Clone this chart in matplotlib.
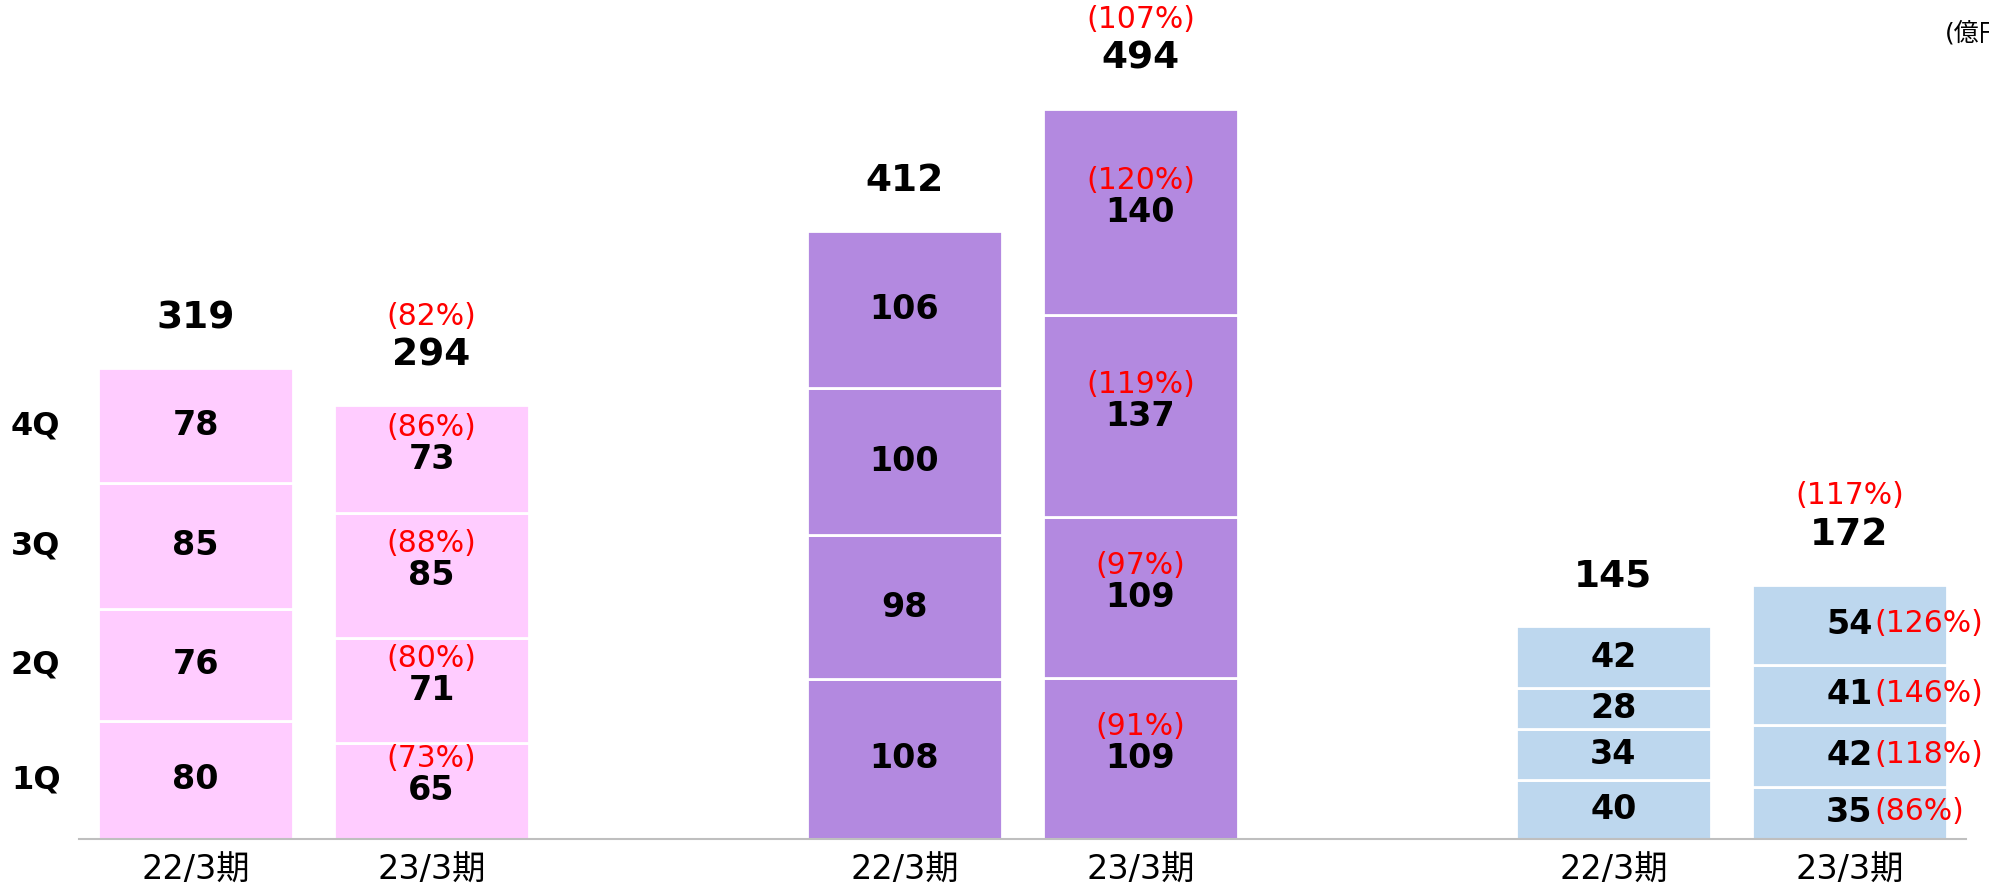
import numpy as np
import matplotlib.pyplot as plt

plt.rcParams['font.family'] = ['DejaVu Sans', 'Noto Sans CJK JP']

periods = ['22/3期', '23/3期']
quarters = ['1Q', '2Q', '3Q', '4Q']

pink_prev = [80, 76, 85, 78]
pink_cur = [65, 71, 85, 73]
pink_pct = [73, 80, 88, 86]

purple_prev = [108, 98, 100, 106]
purple_cur = [109, 109, 137, 140]
purple_pct = [91, 97, 119, 120]

blue_prev = [40, 34, 28, 42]
blue_cur = [35, 42, 41, 54]
blue_pct = [86, 118, 146, 126]

totals_prev = [319, 412, 145]
totals_cur = [294, 494, 172]
totals_pct = [82, 107, 117]

colors = ['#FFCCFF', '#B389E0', '#BDD7EE']

groups = [(pink_prev, pink_cur, pink_pct),
          (purple_prev, purple_cur, purple_pct),
          (blue_prev, blue_cur, blue_pct)]

fig = plt.figure(figsize=(19.89, 8.86), dpi=100)
ax = fig.add_axes([0.0397, 0.0536, 0.9487, 0.9464])

width = 0.2755
off = 0.1664
red = '#FF0000'
seg_fs = 24
tot_fs = 27
pct_fs = 21.5

tick_pos = []
tick_lab = []
for g, (prev, cur, pct) in enumerate(groups):
    x0, x1 = g - off, g + off
    tick_pos += [x0, x1]
    tick_lab += periods
    b0 = np.concatenate([[0], np.cumsum(prev)[:-1]])
    b1 = np.concatenate([[0], np.cumsum(cur)[:-1]])
    ax.bar([x0] * 4, prev, width, bottom=b0, color=colors[g], edgecolor='white', linewidth=2)
    ax.bar([x1] * 4, cur, width, bottom=b1, color=colors[g], edgecolor='white', linewidth=2)
    for v, b in zip(prev, b0):
        ax.text(x0, b + v / 2, str(v), ha='center', va='center', fontsize=seg_fs, fontweight='bold')
    for v, b, p in zip(cur, b1, pct):
        ax.text(x1, b + v / 2, str(v), ha='center', va='center', fontsize=seg_fs, fontweight='bold')
        if g == 2:
            ax.text(x1 + 0.036, b + v / 2 + 1, f'({p}%)', ha='left', va='center', fontsize=pct_fs, color=red)
        else:
            ax.text(x1, b + v / 2 + 21.5, f'({p}%)', ha='center', va='center', fontsize=pct_fs, color=red)
    top0 = sum(prev)
    top1 = sum(cur)
    ax.text(x0, top0 + 34, str(totals_prev[g]), ha='center', va='center', fontsize=tot_fs, fontweight='bold')
    ax.text(x1, top1 + 34, str(totals_cur[g]), ha='center', va='center', fontsize=tot_fs, fontweight='bold')
    ax.text(x1, top1 + 60.5, f'({totals_pct[g]}%)', ha='center', va='center', fontsize=pct_fs, color=red)

# quarter labels next to first bar
b0 = np.concatenate([[0], np.cumsum(pink_prev)[:-1]])
for q, v, b in zip(quarters, pink_prev, b0):
    ax.text(-0.392, b + v / 2, q, ha='center', va='center', fontsize=23, fontweight='bold', clip_on=False)

# unit label, cut at the right edge as in the source slide
fig.text(0.978, 0.963, '(億円)', ha='left', va='center', fontsize=18)

ax.set_xlim(-0.331, 2.331)
ax.set_ylim(0, 569)
ax.set_xticks(tick_pos, tick_lab, fontsize=24)
ax.tick_params(axis='x', length=0, pad=11)
ax.set_yticks([])
for s in ['top', 'right', 'left']:
    ax.spines[s].set_visible(False)
ax.spines['bottom'].set_color('#BFBFBF')
ax.spines['bottom'].set_linewidth(1.5)

fig.savefig('out.png', dpi=100)
